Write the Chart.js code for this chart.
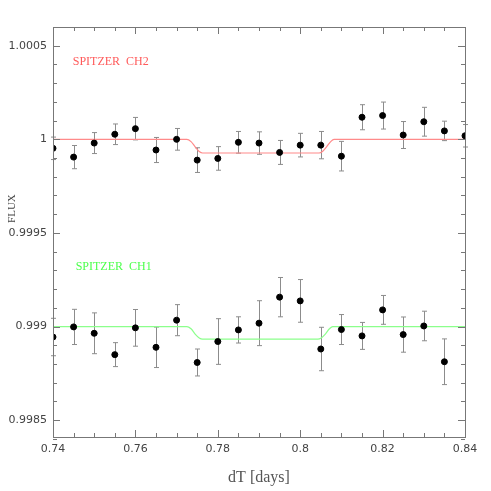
<!DOCTYPE html>
<html>
<head>
<meta charset="utf-8">
<script src="https://cdn.jsdelivr.net/npm/chart.js@4"></script>
<style>
  html, body { margin:0; padding:0; background:#fff; }
  #wrap { width:491px; height:491px; }
</style>
</head>
<body>
<div id="wrap"><canvas id="chart" width="491" height="491"></canvas></div>
<script>
// --- data ---
const ch2Time = [0.740,0.745,0.750,0.755,0.760,0.765,0.770,0.775,0.780,0.785,0.790,0.795,0.800,0.805,0.810,0.815,0.820,0.825,0.830,0.835,0.840];
const ch2Flux = [0.999952,0.999905,0.99998,1.000027,1.000057,0.999943,1.0000,0.999889,0.999898,0.999984,0.99998,0.99993,0.999969,0.999969,0.99991,1.000118,1.000127,1.000023,1.000094,1.000045,1.000019];
const ch2Err  = [0.00006,0.000062,0.000056,0.000055,0.00006,0.000067,0.000058,0.000066,0.000063,0.000058,0.00006,0.000064,0.000063,0.000073,0.000079,0.000067,0.000072,0.000072,0.000077,0.000052,0.00006];

const ch1Time = [0.740,0.745,0.750,0.755,0.760,0.765,0.770,0.775,0.780,0.785,0.790,0.795,0.800,0.805,0.810,0.815,0.820,0.825,0.830,0.835];
const ch1Flux = [0.998944,0.998998,0.998964,0.99885,0.998993,0.998889,0.999034,0.998808,0.99892,0.998982,0.999018,0.999157,0.999137,0.99888,0.998984,0.99895,0.999089,0.998957,0.999003,0.998812];
const ch1Err  = [0.0001,0.000094,0.000109,0.000064,0.000098,0.000108,0.000083,0.000072,0.000122,0.00007,0.00012,0.000105,0.000114,0.000116,0.00008,0.000072,0.000077,0.000094,0.000079,0.000122];

// transit model curves
const ch2ModelTime = [0.740,0.7725,0.7735,0.7745,0.7755,0.7763,0.8046,0.8054,0.8064,0.8074,0.8082,0.840];
const ch2ModelFlux = [1.0,1.0,0.999988,0.99996,0.999935,0.999927,0.999927,0.999935,0.99996,0.999988,1.0,1.0];
const ch1ModelTime = [0.740,0.7725,0.7735,0.7745,0.7755,0.7763,0.8043,0.8051,0.8061,0.8071,0.8079,0.840];
const ch1ModelFlux = [0.999,0.999,0.998988,0.99896,0.998939,0.998933,0.998933,0.998939,0.99896,0.998988,0.999,0.999];

const xTicks = [0.74,0.76,0.78,0.80,0.82,0.84];
const xTickLabels = ['0.74','0.76','0.78','0.8','0.82','0.84'];
const yTicks = [0.9985,0.999,0.9995,1.0,1.0005];
const yTickLabels = ['0.9985','0.999','0.9995','1','1.0005'];

const toXY = (xs, ys) => xs.map((x,i) => ({x:x, y:ys[i]}));

// --- error bars ---
const errorBars = {
  id:'errorBars',
  beforeDatasetsDraw(chart) {
    const {ctx, scales:{x, y}} = chart;
    ctx.save();
    ctx.strokeStyle = '#8c8c8c';
    ctx.lineWidth = 1;
    [[ch2Time, ch2Flux, ch2Err], [ch1Time, ch1Flux, ch1Err]].forEach(([ts, fs, es]) => {
      ts.forEach((t,i) => {
        const px = Math.round(x.getPixelForValue(t)) + 0.5;
        const top = y.getPixelForValue(fs[i] + es[i]);
        const bot = y.getPixelForValue(fs[i] - es[i]);
        ctx.beginPath();
        ctx.moveTo(px, top); ctx.lineTo(px, bot);
        ctx.moveTo(px-2.5, top); ctx.lineTo(px+2.5, top);
        ctx.moveTo(px-2.5, bot); ctx.lineTo(px+2.5, bot);
        ctx.stroke();
      });
    });
    ctx.restore();
  }
};

// --- box frame with inward ticks on all four sides, plus labels ---
const frame = {
  id:'frame',
  afterDraw(chart) {
    const {ctx, chartArea:a, scales:{x, y}} = chart;
    ctx.save();
    ctx.strokeStyle = '#777';
    ctx.lineWidth = 1;
    ctx.strokeRect(a.left+0.5, a.top+0.5, a.right-a.left, a.bottom-a.top);
    ctx.beginPath();
    for (let v = 0.74; v <= 0.8401; v += 0.005) {
      const px = Math.round(x.getPixelForValue(v)) + 0.5;
      const major = Math.abs(v*100 - Math.round(v*100)) < 1e-6 && Math.round(v*100) % 2 === 0;
      const len = major ? 7 : 4;
      ctx.moveTo(px, a.bottom); ctx.lineTo(px, a.bottom - len);
      ctx.moveTo(px, a.top); ctx.lineTo(px, a.top + len);
    }
    for (let k = 0; k <= 22; k++) {
      const v = 0.9984 + k*0.0001;
      const py = Math.round(y.getPixelForValue(v)) + 0.5;
      const major = (k - 1) % 5 === 0;
      const len = major ? 7 : 4;
      ctx.moveTo(a.left, py); ctx.lineTo(a.left + len, py);
      ctx.moveTo(a.right, py); ctx.lineTo(a.right - len, py);
    }
    ctx.stroke();

    ctx.font = '12px "Liberation Serif"';
    ctx.textBaseline = 'middle';
    ctx.textAlign = 'left';
    ctx.fillStyle = '#ff5a5a';
    ctx.fillText('SPITZER  CH2', x.getPixelForValue(0.7448), y.getPixelForValue(1.000415));
    ctx.fillStyle = '#4cff4c';
    ctx.fillText('SPITZER  CH1', x.getPixelForValue(0.7455), y.getPixelForValue(0.999318));

    // y axis title, sits a bit above the middle as in the original
    ctx.translate(12, y.getPixelForValue(0.99963));
    ctx.rotate(-Math.PI/2);
    ctx.textAlign = 'center';
    ctx.fillStyle = '#444';
    ctx.font = '11px "Liberation Serif"';
    ctx.fillText('FLUX', 0, 0);
    ctx.restore();
  }
};

new Chart(document.getElementById('chart').getContext('2d'), {
  type:'scatter',
  data:{
    datasets:[
      { type:'line', data:toXY(ch2ModelTime, ch2ModelFlux), borderColor:'#ff8a8a', borderWidth:1.2,
        pointRadius:0, fill:false, cubicInterpolationMode:'monotone', order:2 },
      { type:'line', data:toXY(ch1ModelTime, ch1ModelFlux), borderColor:'#8cff8c', borderWidth:1.2,
        pointRadius:0, fill:false, cubicInterpolationMode:'monotone', order:2 },
      { data:toXY(ch2Time, ch2Flux), backgroundColor:'#000', borderColor:'#000', pointRadius:3, order:1 },
      { data:toXY(ch1Time, ch1Flux), backgroundColor:'#000', borderColor:'#000', pointRadius:3, order:1 }
    ]
  },
  options:{
    responsive:false,
    animation:false,
    layout:{ padding:{ top:27, right:26, left:0, bottom:0 } },
    plugins:{ legend:{display:false}, tooltip:{enabled:false} },
    scales:{
      x:{
        type:'linear', min:0.74, max:0.84,
        afterBuildTicks: s => { s.ticks = xTicks.map(v => ({value:v})); },
        afterFit: s => { s.height = 54; },
        grid:{ display:false, drawTicks:false },
        border:{ display:false },
        ticks:{ color:'#444', font:{family:'DejaVu Sans', size:11}, padding:6, maxRotation:0,
                callback: (v, i) => xTickLabels[i] },
        title:{ display:true, text:'dT [days]', color:'#555', font:{family:'Liberation Serif', size:16}, padding:{top:2} }
      },
      y:{
        type:'linear', min:0.99841, max:1.0006,
        afterBuildTicks: s => { s.ticks = yTicks.map(v => ({value:v})); },
        afterFit: s => { s.width = 53; },
        grid:{ display:false, drawTicks:false },
        border:{ display:false },
        ticks:{ color:'#444', font:{family:'DejaVu Sans', size:11}, padding:6,
                callback: (v, i) => yTickLabels[i] },
        title:{ display:false }
      }
    }
  },
  plugins:[errorBars, frame]
});
</script>
</body>
</html>
